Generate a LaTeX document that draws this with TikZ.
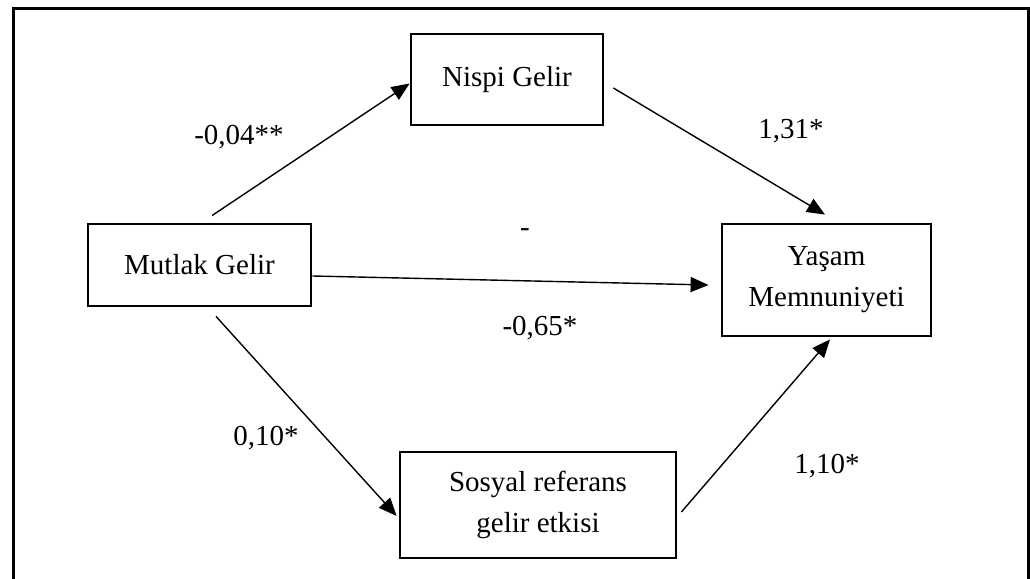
\documentclass[tikz,border=0pt]{standalone}
\usepackage{fontspec}
\setmainfont{Liberation Serif}
\usetikzlibrary{arrows.meta}
\tikzset{
  box/.style={draw, line width=2.8pt, inner sep=0pt, align=center, font=\fontsize{29}{41}\selectfont},
  conn/.style={line width=1.4pt, -{Triangle[length=18pt,width=15pt]}},
  lbl/.style={font=\fontsize{29}{33}\selectfont, inner sep=0pt}
}
\begin{document}
\begin{tikzpicture}[x=1pt,y=1pt]
\useasboundingbox (0,0) rectangle (1030,578);
\draw[line width=2.8pt] (13.5,-2) -- (13.5,569.5) -- (1028.5,569.5) -- (1028.5,-2);
\node[box, minimum width=192pt, minimum height=91pt] (nis) at (507,498.5) {Nispi Gelir};
\node[box, minimum width=209pt, minimum height=112pt] (yas) at (826.5,298) {Yaşam\\Memnuniyeti};
\node[box, minimum width=223pt, minimum height=82pt] (mut) at (199.5,313) {Mutlak Gelir};
\node[box, minimum width=276pt, minimum height=106pt] (sos) at (538,73) {Sosyal referans\\gelir etkisi};
\draw[conn] ([xshift=12.5pt,yshift=7pt]mut.north) -- ([yshift=-4pt]nis.west);
\draw[conn] ([xshift=9pt,yshift=-8.5pt]nis.east) -- ([xshift=-1.5pt,yshift=8pt]yas.north);
\draw[conn] ([yshift=-11pt]mut.east) -- ([xshift=-12pt,yshift=-5pt]yas.west);
\draw[conn] ([xshift=16.5pt,yshift=-9pt]mut.south) -- ([xshift=-2pt,yshift=-11pt]sos.west);
\draw[conn] ([xshift=4pt,yshift=-7pt]sos.east) -- ([xshift=3.5pt,yshift=-2pt]yas.south);
\node[lbl] (l1) at (239,441) {-0,04**};
\node[lbl] (l2) at (791,447) {1,31*};
\node[lbl] (l3) at (525,345) {-};
\node[lbl] (l4) at (540,250) {-0,65*};
\node[lbl] (l5) at (266,140) {0,10*};
\node[lbl] (l6) at (827,112) {1,10*};
\end{tikzpicture}
\end{document}
